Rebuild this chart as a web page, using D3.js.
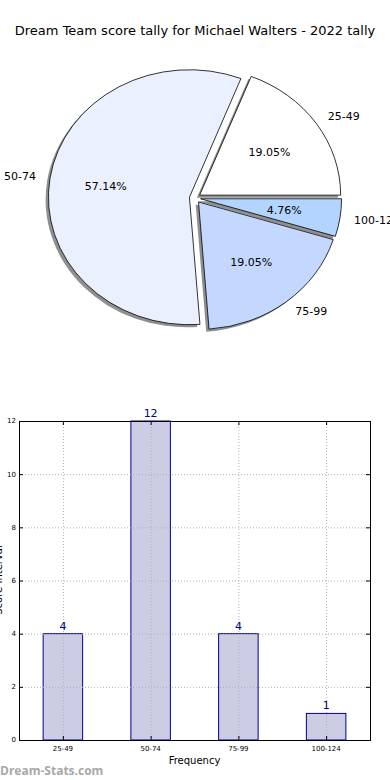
<!DOCTYPE html>
<html>
<head>
<meta charset="utf-8">
<script src="https://cdn.jsdelivr.net/npm/d3@7"></script>
<style>
  body { margin: 0; background: #fff; }
  svg { display: block; font-family: "DejaVu Sans", sans-serif; }
</style>
</head>
<body>
<div id="chart"></div>
<script>
const title = "Dream Team score tally for Michael Walters - 2022 tally";
const categories = ["25-49", "50-74", "75-99", "100-124"];
const counts = [4, 12, 4, 1];
const sliceColors = ["#ffffff", "#eaf0fe", "#c4d8ff", "#b3d4ff"];
const yTicks = [0, 2, 4, 6, 8, 10, 12];

const width = 390, height = 780;
const total = d3.sum(counts);

const svg = d3.select("#chart")
    .append("svg")
    .attr("width", width)
    .attr("height", height);

svg.append("rect")
    .attr("width", width)
    .attr("height", height)
    .attr("fill", "white");

// Title
svg.append("text")
    .attr("x", 195)
    .attr("y", 35)
    .attr("text-anchor", "middle")
    .style("font-size", "13px")
    .attr("fill", "#000")
    .text(title);

// ---- Pie (elliptical, matplotlib style: counterclockwise from 3 o'clock) ----
const cx = 195, cy = 198, rx = 141, ry = 127.5, explode = 0.04;
const k = ry / rx;

const pieData = categories.map((c, i) => ({ cat: c, count: counts[i], color: sliceColors[i] }));

const pie = d3.pie()
    .value(d => d.count)
    .sort(null)
    .startAngle(Math.PI / 2)
    .endAngle(Math.PI / 2 - 2 * Math.PI);

const arcs = pie(pieData);
const arc = d3.arc().innerRadius(0).outerRadius(rx);

const mid = d => (d.startAngle + d.endAngle) / 2;
const apex = d => [cx + explode * rx * Math.sin(mid(d)), cy - explode * ry * Math.cos(mid(d))];

const pieG = svg.append("g");

// shadows first
pieG.selectAll("path.shadow")
    .data(arcs)
    .enter()
    .append("path")
    .attr("class", "shadow")
    .attr("transform", d => {
        const [ax, ay] = apex(d);
        return `translate(${ax - 0.02 * rx},${ay + 0.02 * ry}) scale(1,${k})`;
    })
    .attr("d", arc)
    .attr("fill", "#444")
    .attr("opacity", 0.6);

pieG.selectAll("path.slice")
    .data(arcs)
    .enter()
    .append("path")
    .attr("class", "slice")
    .attr("transform", d => {
        const [ax, ay] = apex(d);
        return `translate(${ax},${ay}) scale(1,${k})`;
    })
    .attr("d", arc)
    .attr("fill", d => d.data.color)
    .attr("stroke", "#000")
    .attr("stroke-width", 0.8)
    .attr("vector-effect", "non-scaling-stroke");

// category labels at 1.1 radius
pieG.selectAll("text.lab")
    .data(arcs)
    .enter()
    .append("text")
    .attr("class", "lab")
    .attr("x", d => apex(d)[0] + 1.1 * rx * Math.sin(mid(d)))
    .attr("y", d => apex(d)[1] - 1.1 * ry * Math.cos(mid(d)))
    .attr("dy", "0.35em")
    .attr("text-anchor", d => Math.sin(mid(d)) > 0 ? "start" : "end")
    .style("font-size", "11px")
    .text(d => d.data.cat);

// percentages at 0.6 radius
pieG.selectAll("text.pct")
    .data(arcs)
    .enter()
    .append("text")
    .attr("class", "pct")
    .attr("x", d => apex(d)[0] + 0.6 * rx * Math.sin(mid(d)))
    .attr("y", d => apex(d)[1] - 0.6 * ry * Math.cos(mid(d)))
    .attr("dy", "0.35em")
    .attr("text-anchor", "middle")
    .style("font-size", "11px")
    .text(d => (d.data.count / total * 100).toFixed(2) + "%");

// ---- Bar chart ----
const plotL = 19, plotR = 370, plotT = 421, plotB = 740;

const x = d3.scaleLinear().domain([-0.5, categories.length - 0.5]).range([plotL, plotR]);
const y = d3.scaleLinear().domain([0, 12]).range([plotB, plotT]);
const barW = x(0.45) - x(0);

const bars = svg.append("g");

bars.selectAll("rect")
    .data(counts)
    .enter()
    .append("rect")
    .attr("x", (d, i) => x(i) - barW / 2)
    .attr("y", d => y(d))
    .attr("width", barW)
    .attr("height", d => y(0) - y(d))
    .attr("fill", "#ccccE5")
    .attr("stroke", "#00008b")
    .attr("stroke-width", 1);

// grid (drawn over bars)
const grid = svg.append("g")
    .attr("stroke", "#b0b0b0")
    .attr("stroke-width", 1)
    .attr("stroke-dasharray", "1,2");

grid.selectAll("line.h")
    .data(yTicks)
    .enter()
    .append("line")
    .attr("x1", plotL).attr("x2", plotR)
    .attr("y1", d => y(d) + 0.5).attr("y2", d => y(d) + 0.5);

grid.selectAll("line.v")
    .data(categories)
    .enter()
    .append("line")
    .attr("x1", (d, i) => x(i) + 0.5).attr("x2", (d, i) => x(i) + 0.5)
    .attr("y1", plotT).attr("y2", plotB);

// frame
svg.append("rect")
    .attr("x", plotL + 0.5)
    .attr("y", plotT + 0.5)
    .attr("width", plotR - plotL)
    .attr("height", plotB - plotT)
    .attr("fill", "none")
    .attr("stroke", "#000")
    .attr("stroke-width", 1);

// inward ticks
const ticks = svg.append("g").attr("stroke", "#000").attr("stroke-width", 1);
yTicks.forEach(t => {
    ticks.append("line").attr("x1", plotL).attr("x2", plotL + 4).attr("y1", y(t) + 0.5).attr("y2", y(t) + 0.5);
    ticks.append("line").attr("x1", plotR - 4).attr("x2", plotR).attr("y1", y(t) + 0.5).attr("y2", y(t) + 0.5);
});
categories.forEach((c, i) => {
    ticks.append("line").attr("x1", x(i) + 0.5).attr("x2", x(i) + 0.5).attr("y1", plotB - 4).attr("y2", plotB);
    ticks.append("line").attr("x1", x(i) + 0.5).attr("x2", x(i) + 0.5).attr("y1", plotT).attr("y2", plotT + 4);
});

// tick labels
svg.append("g").selectAll("text")
    .data(yTicks)
    .enter()
    .append("text")
    .attr("x", plotL - 3)
    .attr("y", d => y(d))
    .attr("dy", "0.35em")
    .attr("text-anchor", "end")
    .style("font-size", "7px")
    .text(d => d);

svg.append("g").selectAll("text")
    .data(categories)
    .enter()
    .append("text")
    .attr("x", (d, i) => x(i))
    .attr("y", plotB + 11)
    .attr("text-anchor", "middle")
    .style("font-size", "7px")
    .text(d => d);

// value labels
svg.append("g").selectAll("text")
    .data(counts)
    .enter()
    .append("text")
    .attr("x", (d, i) => x(i))
    .attr("y", d => y(d) - 4)
    .attr("text-anchor", "middle")
    .attr("fill", "#00008b")
    .style("font-size", "11px")
    .text(d => d);

// axis labels
svg.append("text")
    .attr("x", (plotL + plotR) / 2)
    .attr("y", 764)
    .attr("text-anchor", "middle")
    .style("font-size", "10px")
    .text("Frequency");

svg.append("text")
    .attr("transform", "translate(2,580) rotate(-90)")
    .attr("text-anchor", "middle")
    .style("font-size", "10px")
    .text("Score Interval");

// watermark
svg.append("text")
    .attr("x", 0)
    .attr("y", 775)
    .attr("fill", "#a8a8a8")
    .style("font-family", "'Open Sans', sans-serif")
    .style("font-weight", "bold")
    .style("font-size", "12px")
    .text("Dream-Stats.com");
</script>
</body>
</html>
